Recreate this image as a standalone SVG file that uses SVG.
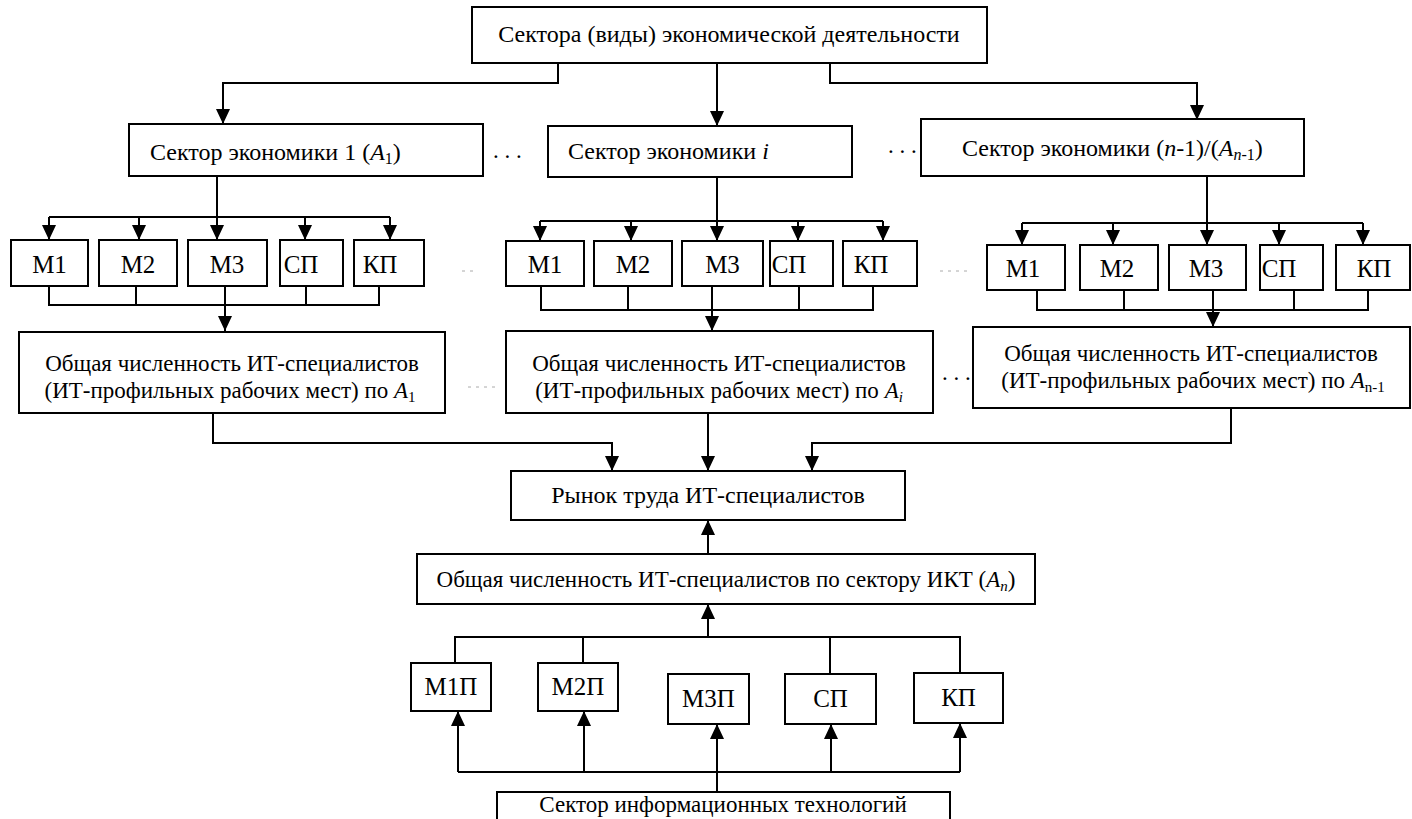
<svg xmlns="http://www.w3.org/2000/svg" width="1412" height="819" viewBox="0 0 1412 819">
<style>
.box{fill:#fff;stroke:#000;stroke-width:2}
.ln{fill:none;stroke:#000;stroke-width:2}
.ar{fill:none;stroke:#000;stroke-width:2;marker-end:url(#ah)}
.t{font-family:'Liberation Serif','Times New Roman',serif;font-size:23px;fill:#000}
.s{font-size:24px}
.m{font-family:'Liberation Serif','Times New Roman',serif;font-size:25px;fill:#000;text-anchor:middle}
.c{text-anchor:middle}
.dim{stroke:#aaa;stroke-width:1;stroke-dasharray:3 5;fill:none}
</style>
<defs>
<marker id="ah" viewBox="0 0 15 14" refX="15" refY="7" markerWidth="15" markerHeight="14" markerUnits="userSpaceOnUse" orient="auto">
<path d="M0,0 L15,7 L0,14 z" fill="#000"/>
</marker>
</defs>
<rect width="1412" height="819" fill="#fff"/>

<g id="connectors">
<path class="ar" d="M558,63 V83 H223 V124"/>
<path class="ar" d="M717,63 V126"/>
<path class="ar" d="M830,63 V83 H1197 V120"/>
<path class="ar" d="M217,176 V240"/>
<path class="ln" d="M49,217 H390"/>
<path class="ar" d="M49,217 V240"/>
<path class="ar" d="M139,217 V240"/>
<path class="ar" d="M305,217 V240"/>
<path class="ar" d="M390,217 V240"/>
<path class="ln" d="M49,286 V305 H379 V286 M136,286 V305 M306,286 V305"/>
<path class="ar" d="M225,286 V331"/>
<path class="ar" d="M717,177 V241"/>
<path class="ln" d="M540,221 H883"/>
<path class="ar" d="M540,221 V241"/>
<path class="ar" d="M631,221 V241"/>
<path class="ar" d="M798,221 V241"/>
<path class="ar" d="M883,221 V241"/>
<path class="ln" d="M541,286 V310 H873 V286 M628,286 V310 M799,286 V310"/>
<path class="ar" d="M712,286 V331"/>
<path class="ar" d="M1207,176 V245"/>
<path class="ln" d="M1022,223 H1363"/>
<path class="ar" d="M1022,223 V245"/>
<path class="ar" d="M1113,223 V245"/>
<path class="ar" d="M1279,223 V245"/>
<path class="ar" d="M1363,223 V245"/>
<path class="ln" d="M1037,290 V310 H1368 V290 M1124,290 V310 M1294,290 V310"/>
<path class="ar" d="M1213,290 V327"/>
<path class="ar" d="M213,413 V443 H612 V471"/>
<path class="ar" d="M708,413 V471"/>
<path class="ar" d="M1231,408 V443 H812 V471"/>
<path class="ar" d="M708,554 V520"/>
<path class="ar" d="M708,637 V604"/>
<path class="ln" d="M455,663 V637 H960 V673 M583,637 V663 M830,637 V674"/>
<path class="ln" d="M458,772 H960"/>
<path class="ar" d="M458,772 V711"/>
<path class="ar" d="M584,772 V711"/>
<path class="ar" d="M717,792 V724"/>
<path class="ar" d="M831,772 V724"/>
<path class="ar" d="M960,772 V723"/>
</g>

<g id="separators">
<text class="t" x="493" y="158">. . .</text>
<text class="t" x="888" y="153">. . .</text>
<line class="dim" x1="462" y1="271" x2="476" y2="271"/>
<line class="dim" x1="940" y1="271" x2="968" y2="271"/>
<line class="dim" x1="468" y1="387" x2="496" y2="387"/>
<text class="t" x="942" y="380">. . .</text>
</g>

<g id="top">
<rect class="box" x="472" y="7" width="515" height="56"/>
<text class="t s c" x="729" y="42">Сектора (виды) экономической деятельности</text>
</g>

<g id="sector1">
<rect class="box" x="129" y="124" width="354" height="52"/>
<text class="t s" x="150" y="160">Сектор экономики 1 (<tspan font-style="italic">A</tspan><tspan font-size="16" dy="4">1</tspan><tspan dy="-4">)</tspan></text>
</g>
<g id="sectori">
<rect class="box" x="548" y="126" width="304" height="51"/>
<text class="t s" x="568" y="159">Сектор экономики <tspan font-style="italic">i</tspan></text>
</g>
<g id="sectorn1">
<rect class="box" x="921" y="119" width="383" height="57"/>
<text class="t s" x="962" y="156">Сектор экономики (<tspan font-style="italic">n</tspan>-1)/(<tspan font-style="italic">A</tspan><tspan font-size="16" dy="4"><tspan font-style="italic">n</tspan>-1</tspan><tspan dy="-4">)</tspan></text>
</g>

<g id="row1-m1"><rect class="box" x="11" y="240" width="77" height="46"/><text class="m" x="49.5" y="273">М1</text></g>
<g id="row1-m2"><rect class="box" x="99" y="240" width="78" height="46"/><text class="m" x="138" y="273">М2</text></g>
<g id="row1-m3"><rect class="box" x="188" y="240" width="79" height="46"/><text class="m" x="227" y="273">М3</text></g>
<g id="row1-sp"><rect class="box" x="280" y="240" width="63" height="46"/><text class="m" x="301" y="273">СП</text></g>
<g id="row1-kp"><rect class="box" x="354" y="240" width="70" height="46"/><text class="m" x="380" y="273">КП</text></g>

<g id="row2-m1"><rect class="box" x="506" y="241" width="78" height="45"/><text class="m" x="545" y="273">М1</text></g>
<g id="row2-m2"><rect class="box" x="594" y="241" width="78" height="45"/><text class="m" x="633" y="273">М2</text></g>
<g id="row2-m3"><rect class="box" x="682" y="241" width="81" height="45"/><text class="m" x="722.5" y="273">М3</text></g>
<g id="row2-sp"><rect class="box" x="770" y="241" width="63" height="45"/><text class="m" x="789" y="273">СП</text></g>
<g id="row2-kp"><rect class="box" x="843" y="241" width="74" height="45"/><text class="m" x="871" y="273">КП</text></g>

<g id="row3-m1"><rect class="box" x="987" y="245" width="78" height="45"/><text class="m" x="1023" y="277">М1</text></g>
<g id="row3-m2"><rect class="box" x="1080" y="245" width="78" height="45"/><text class="m" x="1117" y="277">М2</text></g>
<g id="row3-m3"><rect class="box" x="1169" y="245" width="77" height="45"/><text class="m" x="1206" y="277">М3</text></g>
<g id="row3-sp"><rect class="box" x="1260" y="245" width="63" height="45"/><text class="m" x="1279" y="277">СП</text></g>
<g id="row3-kp"><rect class="box" x="1336" y="245" width="74" height="45"/><text class="m" x="1374" y="277">КП</text></g>

<g id="total1">
<rect class="box" x="19" y="332" width="426" height="81"/>
<text class="t c" x="232" y="371">Общая численность ИТ-специалистов</text>
<text class="t c" x="230" y="398">(ИТ-профильных рабочих мест) по <tspan font-style="italic">A</tspan><tspan font-size="15" dy="4">1</tspan></text>
</g>
<g id="totali">
<rect class="box" x="506" y="331" width="427" height="82"/>
<text class="t c" x="719" y="371">Общая численность ИТ-специалистов</text>
<text class="t c" x="719" y="398">(ИТ-профильных рабочих мест) по <tspan font-style="italic">A</tspan><tspan font-size="15" dy="4" font-style="italic">i</tspan></text>
</g>
<g id="totaln1">
<rect class="box" x="973" y="327" width="437" height="81"/>
<text class="t c" x="1191" y="361">Общая численность ИТ-специалистов</text>
<text class="t c" x="1193" y="388">(ИТ-профильных рабочих мест) по <tspan font-style="italic">A</tspan><tspan font-size="15" dy="4">n-1</tspan></text>
</g>

<g id="market">
<rect class="box" x="511" y="471" width="394" height="49"/>
<text class="t s c" x="708" y="503">Рынок труда ИТ-специалистов</text>
</g>
<g id="ict">
<rect class="box" x="417" y="554" width="618" height="50"/>
<text class="t c" x="726" y="587" font-size="23.5">Общая численность ИТ-специалистов по сектору ИКТ (<tspan font-style="italic">A</tspan><tspan font-size="15" dy="4" font-style="italic">n</tspan><tspan dy="-4">)</tspan></text>
</g>

<g id="b-m1p"><rect class="box" x="411" y="663" width="80" height="48"/><text class="m" x="451" y="695">М1П</text></g>
<g id="b-m2p"><rect class="box" x="538" y="663" width="80" height="48"/><text class="m" x="578" y="695">М2П</text></g>
<g id="b-m3p"><rect class="box" x="668" y="674" width="81" height="50"/><text class="m" x="708.5" y="707">М3П</text></g>
<g id="b-sp"><rect class="box" x="785" y="674" width="91" height="50"/><text class="m" x="830.5" y="707">СП</text></g>
<g id="b-kp"><rect class="box" x="914" y="673" width="89" height="50"/><text class="m" x="958.5" y="706">КП</text></g>

<g id="itsector">
<rect class="box" x="497" y="792" width="453" height="45"/>
<text class="t c" x="723" y="812">Сектор информационных технологий</text>
</g>
</svg>
